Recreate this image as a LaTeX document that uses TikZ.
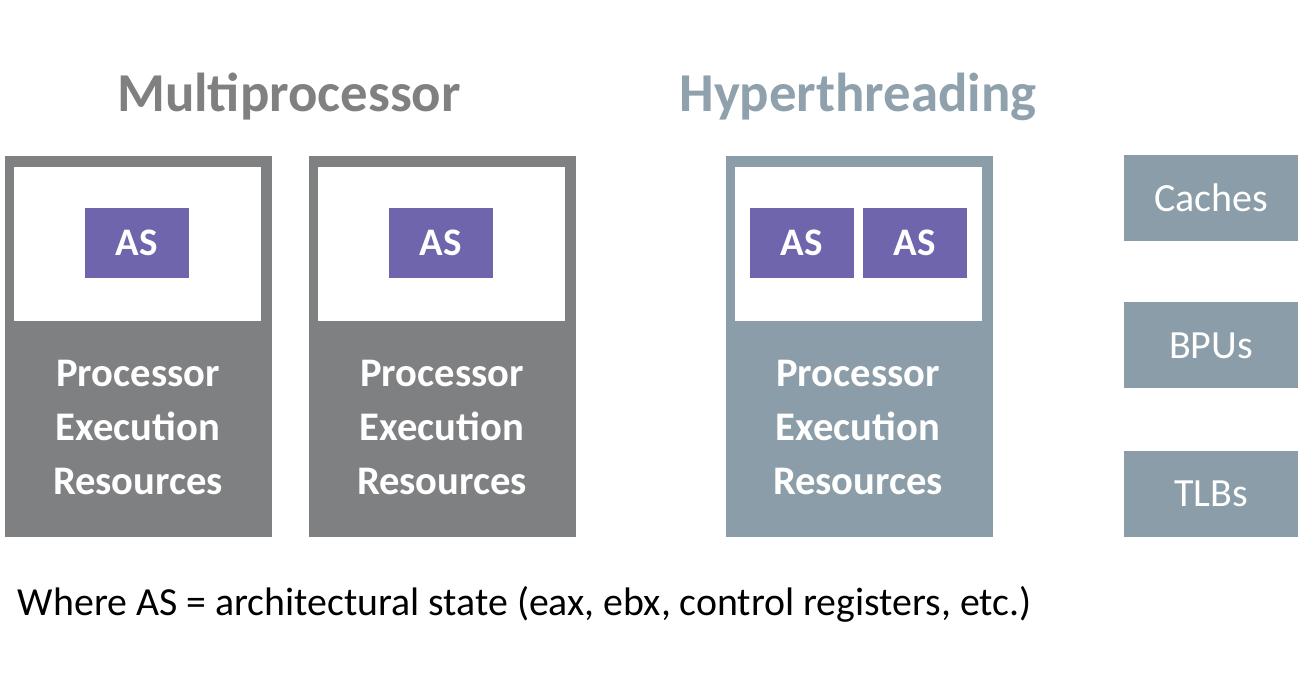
\documentclass[tikz,border=0pt]{standalone}
\usepackage{fontspec}
\setmainfont{Carlito}
\usetikzlibrary{positioning}
\definecolor{coregray}{HTML}{7F8082}
\definecolor{htgray}{HTML}{8A9DA8}
\definecolor{aspurple}{HTML}{6E65AD}
\definecolor{headgray}{HTML}{808080}
\definecolor{headblue}{HTML}{8FA1AC}

\begin{document}
\begin{tikzpicture}[
  x=0.5pt, y=-0.5pt,
  every node/.style={inner sep=0pt, outer sep=0pt},
  core/.style={rectangle, anchor=north west, minimum width=133.5pt, minimum height=190.5pt},
  slot/.style={rectangle, anchor=north west, fill=white, minimum width=123.5pt, minimum height=77pt},
  as/.style={rectangle, fill=aspurple, text=white, font=\bfseries\fontsize{19.5}{23}\selectfont, minimum width=52pt, minimum height=35pt},
  unit/.style={rectangle, fill=htgray, text=white, font=\fontsize{20}{24}\selectfont, minimum width=87pt, minimum height=43pt},
  res/.style={align=center, text=white, font=\bfseries\fontsize{20.3}{27}\selectfont},
  head/.style={font=\bfseries\fontsize{27.4}{32}\selectfont},
]
  \useasboundingbox (0,0) rectangle (1306,694);

  % headings
  \node[head, text=headgray] (mp) at (289,97) {Multiprocessor};
  \node[head, text=headblue] (ht) at (858,97) {Hyperthreading};

  % multiprocessor: two cores
  \node[core, fill=coregray] (c1) at (5,156) {};
  \node[slot] (s1) at (14,167) {};
  \node[as] (as1) at (137,243) {AS};
  \node[res] (r1) at (138,427) {Processor\\Execution\\Resources};

  \node[core, fill=coregray] (c2) at (309,156) {};
  \node[slot] (s2) at (318,167) {};
  \node[as] (as2) at (441,243) {AS};
  \node[res] (r2) at (442,427) {Processor\\Execution\\Resources};

  % hyperthreading: one core, two states
  \node[core, fill=htgray] (c3) at (726,156) {};
  \node[slot] (s3) at (735,167) {};
  \node[as] (as3) at (802,243) {AS};
  \node[as, right=4.5pt of as3] (as4) {AS};
  \node[res] (r3) at (858,427) {Processor\\Execution\\Resources};

  % shared units
  \node[unit] (cache) at (1211,198) {Caches};
  \node[unit] (bpu)   at (1211,345.5) {BPUs};
  \node[unit] (tlb)   at (1211,494) {TLBs};

  \node[anchor=west, font=\fontsize{19.9}{24}\selectfont] (note) at (18,604)
    {Where AS = architectural state (eax, ebx, control registers, etc.)};
\end{tikzpicture}
\end{document}
